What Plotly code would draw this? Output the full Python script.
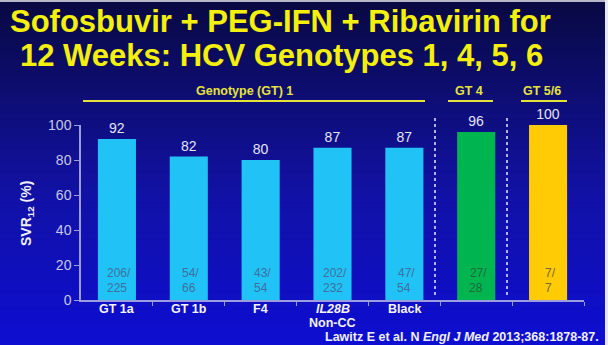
import plotly.graph_objects as go

categories = ["GT 1a", "GT 1b", "F4", "<i>IL28B</i><br>Non-CC", "Black", "", ""]
svr_values = [92, 82, 80, 87, 87, 96, 100]
responders = [206, 54, 43, 202, 47, 27, 7]
totals = [225, 66, 54, 232, 54, 28, 7]
bar_colors = ["#21C3F6", "#21C3F6", "#21C3F6", "#21C3F6", "#21C3F6", "#00B550", "#FFCB05"]
count_colors = ["#3F6F9E", "#3F6F9E", "#3F6F9E", "#3F6F9E", "#3F6F9E", "#1E6A3C", "#7A6A2E"]
group_labels = ["Genotype (GT) 1", "GT 4", "GT 5/6"]

W, H = 608, 345
ML, MR, MT, MB = 81, 24, 125, 45
PW = W - ML - MR
PH = H - MT - MB


def px(xp):
    return (xp - ML) / PW


def py(yp):
    return (H - MB - yp) / PH


# pixel layout of group headers: (line start, line end, label centre)
group_spans = [(83, 425, 244), (448, 493, 469), (521, 567, 542)]
separator_px = [435, 507]

fig = go.Figure()
fig.add_trace(go.Bar(
    x=list(range(len(svr_values))), y=svr_values, width=0.53,
    marker=dict(color=bar_colors, line=dict(width=0)),
    text=[str(v) for v in svr_values], textposition="outside",
    textfont=dict(family="Liberation Sans, Arial", size=14, color="#E4E4F2"),
    cliponaxis=False, hoverinfo="skip",
))

shapes = []
stops = [(0, (9, 9, 66)), (100, (14, 14, 118)), (200, (18, 18, 168)), (345, (14, 14, 210))]
N = 46
for i in range(N):
    p0 = H * i / N
    p1 = H * (i + 1) / N
    pm = (p0 + p1) / 2
    for k in range(len(stops) - 1):
        if stops[k][0] <= pm <= stops[k + 1][0]:
            a, ca = stops[k]
            b, cb = stops[k + 1]
            t = (pm - a) / (b - a)
            c = tuple(int(ca[j] + (cb[j] - ca[j]) * t) for j in range(3))
            break
    shapes.append(dict(type="rect", xref="paper", yref="paper",
                       x0=px(-2), x1=px(W + 2), y0=py(p1) - 0.002, y1=py(p0) + 0.002,
                       fillcolor="rgb(%d,%d,%d)" % c, line=dict(width=0), layer="below"))
shapes.append(dict(type="line", xref="paper", yref="paper", x0=px(0), x1=px(W), y0=py(1), y1=py(1),
                   line=dict(color="#B8B8C8", width=2), layer="above"))
shapes.append(dict(type="line", xref="paper", yref="paper", x0=px(606.5), x1=px(606.5), y0=py(H), y1=py(0),
                   line=dict(color="#E8E8F0", width=3), layer="above"))
for (a, b, _) in group_spans:
    shapes.append(dict(type="line", xref="paper", yref="paper", x0=px(a), x1=px(b), y0=py(101), y1=py(101),
                       line=dict(color="#E6E23C", width=2)))
for s in separator_px:
    shapes.append(dict(type="line", xref="paper", yref="paper", x0=px(s), x1=px(s), y0=py(295), y1=py(118),
                       line=dict(color="#E8E8F4", width=1.5, dash="dot")))

FONT = "Liberation Sans, Arial"
annotations = []
annotations.append(dict(text="<b>Sofosbuvir + PEG-IFN + Ribavirin for</b>", xref="paper", yref="paper",
                        x=px(8), y=py(21), xanchor="left", yanchor="middle",
                        showarrow=False, font=dict(family=FONT, size=31, color="#F4F00C")))
annotations.append(dict(text="<b>12 Weeks: HCV Genotypes 1, 4, 5, 6</b>", xref="paper", yref="paper",
                        x=px(18), y=py(56), xanchor="left", yanchor="middle",
                        showarrow=False, font=dict(family=FONT, size=31, color="#F4F00C")))
for lbl, (a, b, cx) in zip(group_labels, group_spans):
    annotations.append(dict(text="<b>%s</b>" % lbl, xref="paper", yref="paper", x=px(cx), y=py(91),
                            xanchor="center", yanchor="middle", showarrow=False,
                            font=dict(family=FONT, size=12.5, color="#E6E23C")))
for i, (r, t) in enumerate(zip(responders, totals)):
    annotations.append(dict(text="%d/" % r, xref="x", yref="y", x=i + 0.03, y=0,
                            xanchor="center", yanchor="middle", yshift=27, showarrow=False,
                            font=dict(family=FONT, size=12, color=count_colors[i])))
    annotations.append(dict(text="%d" % t, xref="x", yref="y", x=i, y=0,
                            xanchor="center", yanchor="middle", yshift=12, showarrow=False,
                            font=dict(family=FONT, size=12, color=count_colors[i])))
for i, cat in enumerate(categories):
    for j, line in enumerate(cat.split("<br>")):
        if not line:
            continue
        annotations.append(dict(text="<b>%s</b>" % line, xref="x", yref="y", x=i, y=0,
                                xanchor="center", yanchor="middle", yshift=-(9 + 13.5 * j), showarrow=False,
                                font=dict(family=FONT, size=12.5, color="#F4F4FA")))
annotations.append(dict(text="<b>Lawitz E et al. N <i>Engl J Med</i> 2013;368:1878-87.</b>",
                        xref="paper", yref="paper", x=px(601), y=py(337),
                        xanchor="right", yanchor="middle", showarrow=False,
                        font=dict(family=FONT, size=12.5, color="#F0F0F8")))
annotations.append(dict(text="<b>SVR<sub>12</sub> (%)</b>", xref="paper", yref="paper",
                        x=px(27), y=py(214), textangle=-90,
                        xanchor="center", yanchor="middle", showarrow=False,
                        font=dict(family=FONT, size=14, color="#F0F0F8")))

fig.update_layout(
    width=W, height=H, margin=dict(l=ML, r=MR, t=MT, b=MB, pad=0),
    paper_bgcolor="rgb(14,14,130)", plot_bgcolor="rgba(0,0,0,0)",
    showlegend=False, shapes=shapes, annotations=annotations,
    xaxis=dict(range=[-0.5, 6.5], showgrid=False, zeroline=False, showticklabels=False,
               showline=True, linecolor="#9C9CE0", linewidth=1.5,
               ticks="outside", tickvals=[0.5, 1.5, 2.5, 3.5, 4.5, 5.5, 6.5], ticklen=4, tickcolor="#9C9CE0"),
    yaxis=dict(range=[0, 100], tickvals=[0, 20, 40, 60, 80, 100], showgrid=False, zeroline=False,
               showline=True, linecolor="#9C9CE0", linewidth=1.5,
               ticks="outside", ticklen=5, tickcolor="#9C9CE0",
               tickfont=dict(family=FONT, size=14, color="#C8C8E4")),
)

fig.write_html("out.html")
